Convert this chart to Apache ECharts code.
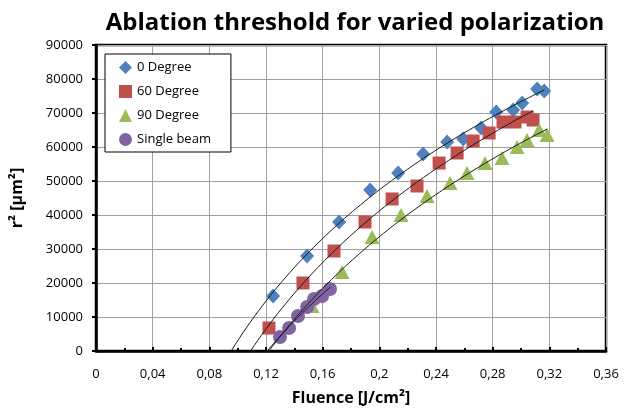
<!DOCTYPE html>
<html><head><meta charset="utf-8">
<script src="https://cdn.jsdelivr.net/npm/echarts@6/dist/echarts.min.js"></script>
<style>html,body{margin:0;padding:0;background:#fff}#c{width:633px;height:410px}</style>
</head><body><div id="c"></div>
<script>
// ---- data ----
const seriesNames = ['0 Degree', '60 Degree', '90 Degree', 'Single beam'];

const deg0X = [0.125, 0.149, 0.1716, 0.1935, 0.2133, 0.2309, 0.2479, 0.2592, 0.2719, 0.2825, 0.2945, 0.3008, 0.3114, 0.3164];
const deg0Y = [16180, 27940, 37940, 47350, 52350, 57940, 61470, 62350, 65590, 70290, 70880, 72940, 77060, 76470];

const deg60X = [0.1221, 0.1461, 0.168, 0.1899, 0.209, 0.2266, 0.2422, 0.2549, 0.2662, 0.2775, 0.2873, 0.2958, 0.3043, 0.3085];
const deg60Y = [6760, 20000, 29410, 37940, 44710, 48530, 55290, 58240, 61760, 64120, 67350, 67350, 68820, 67940];

const deg90X = [0.1525, 0.1737, 0.1949, 0.2153, 0.2337, 0.2499, 0.2619, 0.2746, 0.2866, 0.2972, 0.3043, 0.3128, 0.3184];
const deg90Y = [13240, 23240, 33530, 40000, 45590, 49410, 52350, 55290, 56760, 60000, 62060, 65000, 63530];

const singleX = [0.1299, 0.1363, 0.1426, 0.149, 0.1539, 0.1596, 0.1652];
const singleY = [4120, 6760, 10290, 12940, 15290, 16180, 18240];

const xTickLabels = ['0', '0,04', '0,08', '0,12', '0,16', '0,2', '0,24', '0,28', '0,32', '0,36'];
const yTickLabels = ['0', '10000', '20000', '30000', '40000', '50000', '60000', '70000', '80000', '90000'];

const titleText = 'Ablation threshold for varied polarization';
const xAxisName = 'Fluence [J/cm²]';
const yAxisName = 'r² [µm²]';

// ---- helpers ----
function pairs(xs, ys) { return xs.map((x, i) => [x, ys[i]]); }
// logarithmic least-squares trendline (y = a ln x + b), drawn from y=0 to last point
function logTrend(xs, ys) {
  const n = xs.length;
  const lx = xs.map(Math.log);
  const mx = lx.reduce((s, v) => s + v, 0) / n;
  const my = ys.reduce((s, v) => s + v, 0) / n;
  let sxy = 0, sxx = 0;
  for (let i = 0; i < n; i++) { sxy += (lx[i] - mx) * (ys[i] - my); sxx += (lx[i] - mx) * (lx[i] - mx); }
  const a = sxy / sxx, b = my - a * mx;
  const x0 = Math.exp(-b / a), x1 = Math.max(...xs);
  const pts = [];
  const N = 80;
  for (let i = 0; i <= N; i++) {
    const x = x0 + (x1 - x0) * i / N;
    pts.push([x, a * Math.log(x) + b]);
  }
  return pts;
}

const colors = ['#4F81BD', '#C0504D', '#9BBB59', '#8064A2'];
const symbols = ['diamond', 'rect', 'triangle', 'circle'];
const sizes = [[14, 15], [13, 13], [15, 14], [14, 14]];
const xsAll = [deg0X, deg60X, deg90X, singleX];
const ysAll = [deg0Y, deg60Y, deg90Y, singleY];

const series = [];
for (let k = 0; k < 4; k++) {
  series.push({
    name: seriesNames[k], type: 'scatter', data: pairs(xsAll[k], ysAll[k]),
    symbol: symbols[k], symbolSize: sizes[k],
    itemStyle: { color: colors[k], opacity: 1 }, z: 2
  });
}
for (let k = 0; k < 4; k++) {
  series.push({
    name: 'trend' + k, type: 'line', data: logTrend(xsAll[k], ysAll[k]),
    showSymbol: false, symbol: 'none', smooth: false,
    lineStyle: { color: '#1a1a1a', width: 1 }, z: 5, silent: true
  });
}

const font = '"Open Sans", "Liberation Sans", sans-serif';
const chart = echarts.init(document.getElementById('c'), null, { renderer: 'canvas' });
chart.setOption({
  animation: false,
  backgroundColor: '#fff',
  title: {
    text: titleText, left: 350, top: 6, textAlign: 'center',
    textStyle: { fontFamily: font, fontWeight: 'bold', fontSize: 24, color: '#000' }
  },
  legend: {
    data: seriesNames, orient: 'vertical', left: 105, top: 54,
    backgroundColor: '#fff', borderColor: '#000', borderWidth: 1,
    padding: [7, 20, 6, 14], itemGap: 11, itemWidth: 13, itemHeight: 13,
    textStyle: { fontFamily: font, fontSize: 13, color: '#000' }
  },
  grid: { left: 96, top: 45, width: 510, height: 306, outerBoundsMode: 'none', containLabel: false,
    show: true, borderColor: '#000', borderWidth: 2.5, backgroundColor: '#fff' },
  xAxis: {
    type: 'value', min: 0, max: 0.36, interval: 0.04,
    name: xAxisName, nameLocation: 'middle', nameGap: 39,
    nameTextStyle: { fontFamily: font, fontWeight: 'bold', fontSize: 16, color: '#000' },
    axisLine: { show: true, lineStyle: { color: '#000', width: 2.5 } },
    axisTick: { show: true, inside: true, length: 4, lineStyle: { color: '#000', width: 2 } },
    minorTick: { show: true, splitNumber: 2, length: 3, lineStyle: { color: '#000', width: 2 } },
    axisLabel: { fontFamily: font, fontSize: 13, color: '#000', margin: 17,
      formatter: v => xTickLabels[Math.round(v / 0.04)] },
    splitLine: { show: true, lineStyle: { color: '#a0a0a0', width: 1 } }
  },
  yAxis: {
    type: 'value', min: 0, max: 90000, interval: 10000,
    name: yAxisName, nameLocation: 'middle', nameGap: 71,
    nameTextStyle: { fontFamily: font, fontWeight: 'bold', fontSize: 16, color: '#000' },
    axisLine: { show: true, lineStyle: { color: '#000', width: 2.5 } },
    axisTick: { show: true, inside: false, length: 4, lineStyle: { color: '#000', width: 2 } },
    axisLabel: { fontFamily: font, fontSize: 13, color: '#000', margin: 13,
      formatter: v => yTickLabels[Math.round(v / 10000)] },
    splitLine: { show: true, lineStyle: { color: '#a0a0a0', width: 1 } }
  },
  series: series
});
</script></body></html>
